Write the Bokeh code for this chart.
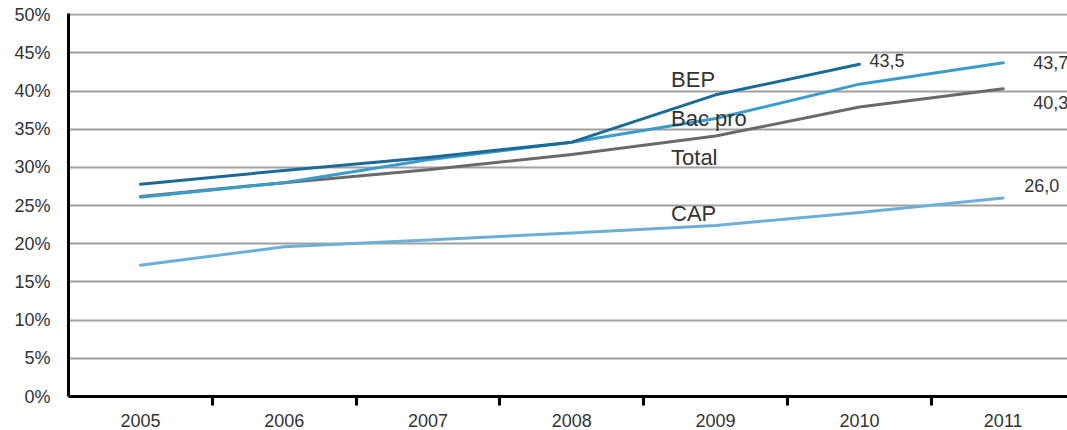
from bokeh.plotting import figure
from bokeh.models import ColumnDataSource, FixedTicker, Range1d, CustomJSTickFormatter
from bokeh.core.properties import value
from bokeh.embed import file_html
from bokeh.resources import INLINE

# Share of students (%) per year, by diploma
years = [2005, 2006, 2007, 2008, 2009, 2010, 2011]
bep = [27.8, 29.6, 31.3, 33.3, 39.5, 43.5]          # series stops in 2010
bac_pro = [26.1, 28.0, 31.0, 33.3, 36.4, 40.9, 43.7]
total = [26.2, 28.0, 29.7, 31.7, 34.1, 37.9, 40.3]
cap = [17.2, 19.6, 20.5, 21.4, 22.4, 24.1, 26.0]

series_names = ["BEP", "Bac pro", "Total", "CAP"]
y_ticks = [0, 5, 10, 15, 20, 25, 30, 35, 40, 45, 50]

FONT = "Liberation Sans"
TEXT = "#333333"
colors = {"BEP": "#1b6a97", "Bac pro": "#3b9ccb", "Total": "#6a6a6a", "CAP": "#6cb0d9"}
values = {"BEP": bep, "Bac pro": bac_pro, "Total": total, "CAP": cap}

X0, X1 = 2004.5, 2011.447
p = figure(width=1067, height=430, output_backend="svg", toolbar_location=None,
           x_range=Range1d(X0, X1), y_range=Range1d(0, 50.15),
           min_border_left=68, min_border_right=0, min_border_top=13,
           min_border_bottom=34)
p.outline_line_color = None
p.background_fill_color = "white"
p.border_fill_color = "white"

# grid: horizontal rules only
p.xgrid.grid_line_color = None
p.ygrid.ticker = FixedTicker(ticks=y_ticks)
p.ygrid.grid_line_color = "#a0a0a0"
p.ygrid.grid_line_width = 2

# y axis
p.yaxis.ticker = FixedTicker(ticks=y_ticks)
p.yaxis.formatter = CustomJSTickFormatter(code="return tick + '%';")
p.yaxis.axis_line_color = "black"
p.yaxis.axis_line_width = 3
p.yaxis.major_tick_line_color = None
p.yaxis.minor_tick_line_color = None
p.yaxis.major_tick_in = 0
p.yaxis.major_tick_out = 0
p.yaxis.major_label_standoff = 18
p.yaxis.major_label_text_font = FONT
p.yaxis.major_label_text_font_size = "18px"
p.yaxis.major_label_text_color = TEXT

# x axis: year labels centred, tick marks between years
p.xaxis.ticker = FixedTicker(ticks=years,
                             minor_ticks=[y + 0.5 for y in years[:-1]])
p.xaxis.axis_line_color = "black"
p.xaxis.axis_line_width = 3
p.xaxis.major_tick_line_color = None
p.xaxis.minor_tick_line_color = "black"
p.xaxis.minor_tick_line_width = 3
p.xaxis.minor_tick_in = 0
p.xaxis.minor_tick_out = 9
p.xaxis.major_tick_in = 0
p.xaxis.major_tick_out = 0
p.xaxis.major_label_standoff = 8
p.xaxis.major_label_text_font = FONT
p.xaxis.major_label_text_font_size = "18px"
p.xaxis.major_label_text_color = TEXT

# lines (CAP, Total first so the darker series sit on top)
for name in ["CAP", "Total", "Bac pro", "BEP"]:
    vals = values[name]
    src = ColumnDataSource(dict(x=years[:len(vals)], y=vals))
    p.line("x", "y", source=src, line_color=colors[name], line_width=3,
           line_join="round", line_cap="round")

# series names
name_x = 2008.69
name_y = {"BEP": 41.55, "Bac pro": 36.45, "Total": 31.35, "CAP": 23.95}
p.text(x=[name_x] * 4, y=[name_y[n] for n in series_names], text=series_names,
       text_font=value(FONT), text_font_size="22px", text_color=TEXT,
       text_baseline="alphabetic", text_align="left")

# end-of-line values
end_names = ["BEP", "Bac pro", "Total", "CAP"]
end_x = [years[len(values[n]) - 1] for n in end_names]
end_v = [values[n][-1] for n in end_names]
end_txt = [f"{v:.1f}".replace(".", ",") for v in end_v]
dx = [10, 30, 30, 21]
dy = [-4, 0, 14, -12]
p.text(x=end_x, y=end_v, text=end_txt, x_offset=dx, y_offset=dy,
       text_font=value(FONT), text_font_size="18px", text_color=TEXT,
       text_baseline="alphabetic", text_align="left")

open("out.html", "w").write(file_html(p, INLINE))
